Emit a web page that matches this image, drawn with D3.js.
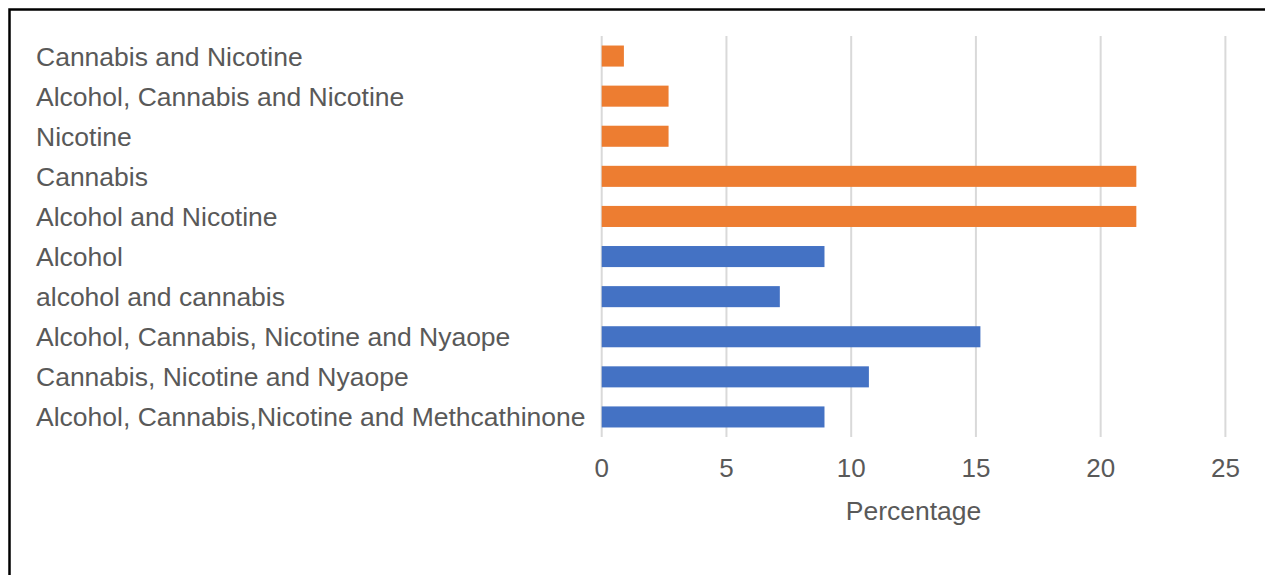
<!DOCTYPE html>
<html>
<head>
<meta charset="utf-8">
<script src="https://cdn.jsdelivr.net/npm/d3@7"></script>
<style>
  html, body { margin: 0; padding: 0; background: #fff; }
  svg { display: block; }
  text { font-family: "Liberation Sans", Arial, sans-serif; fill: #595959; }
</style>
</head>
<body>
<svg id="chart" width="1265" height="575"></svg>
<script>
// Substance use combinations, share of respondents (%)
const categories = [
  "Cannabis and Nicotine",
  "Alcohol, Cannabis and Nicotine",
  "Nicotine",
  "Cannabis",
  "Alcohol and Nicotine",
  "Alcohol",
  "alcohol and cannabis",
  "Alcohol, Cannabis, Nicotine and Nyaope",
  "Cannabis, Nicotine and Nyaope",
  "Alcohol, Cannabis,Nicotine and Methcathinone"
];
const values = [0.89, 2.68, 2.68, 21.43, 21.43, 8.93, 7.14, 15.18, 10.71, 8.93];
const groups = ["orange", "orange", "orange", "orange", "orange", "blue", "blue", "blue", "blue", "blue"];
const xTicks = [0, 5, 10, 15, 20, 25];
const xTitle = "Percentage";

const palette = { orange: "#ED7D31", blue: "#4472C4" };

const svg = d3.select("#chart");

// outer frame (left and top edges fall inside the view)
svg.append("rect")
  .attr("x", 9.5).attr("y", 9.5)
  .attr("width", 1300).attr("height", 600)
  .attr("fill", "none").attr("stroke", "#000").attr("stroke-width", 2.5);

const plot = { left: 601.7, right: 1225.4, top: 36, bottom: 437 };

const x = d3.scaleLinear().domain([0, 25]).range([plot.left, plot.right]);
const y = d3.scaleBand().domain(categories).range([plot.top, plot.bottom]).paddingInner(0.475).paddingOuter(0.2375);

// vertical gridlines
svg.append("g").selectAll("line").data(xTicks).join("line")
  .attr("x1", d => x(d)).attr("x2", d => x(d))
  .attr("y1", plot.top).attr("y2", plot.bottom)
  .attr("stroke", "#d9d9d9").attr("stroke-width", 2);

// bars
svg.append("g").selectAll("rect").data(categories).join("rect")
  .attr("x", x(0))
  .attr("y", d => y(d))
  .attr("width", (d, i) => x(values[i]) - x(0))
  .attr("height", y.bandwidth())
  .attr("fill", (d, i) => palette[groups[i]]);

// category labels, left aligned
svg.append("g").selectAll("text").data(categories).join("text")
  .attr("x", 36)
  .attr("y", d => y(d) + y.bandwidth() / 2)
  .attr("dy", "0.36em")
  .attr("font-size", 26.5)
  .text(d => d);

// x tick labels
svg.append("g").selectAll("text").data(xTicks).join("text")
  .attr("x", d => x(d))
  .attr("y", 476.5)
  .attr("text-anchor", "middle")
  .attr("font-size", 26)
  .text(d => d);

// axis title
svg.append("text")
  .attr("x", (plot.left + plot.right) / 2)
  .attr("y", 519.5)
  .attr("text-anchor", "middle")
  .attr("font-size", 26.5)
  .text(xTitle);
</script>
</body>
</html>
